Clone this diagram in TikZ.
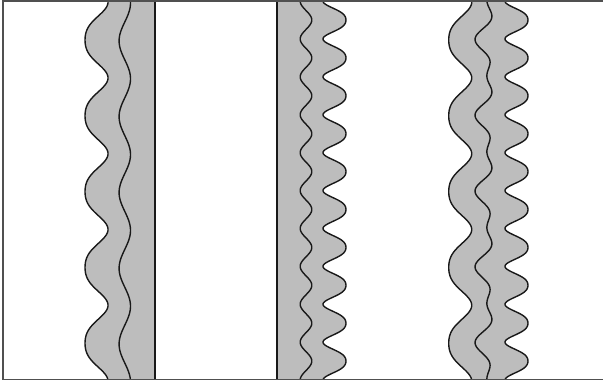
\documentclass[tikz,border=0pt]{standalone}
\definecolor{fillgray}{RGB}{189,189,189}
\definecolor{linegray}{RGB}{80,80,80}
\definecolor{curve}{RGB}{25,25,25}
\tikzset{
  declare function={
    lw(\t)=cos(4.7493*(\t-2.1))+0.15*cos(9.4987*(\t-2.1));
    sw(\t)=cos(9.4987*(\t-20))-0.15*cos(18.9974*(\t-20));
    lc(\t)=cos(4.7493*(\t-3));
    sc(\t)=cos(9.4987*(\t-20));
  },
  grayfill/.style={fill=fillgray},
  wave/.style={draw=curve, line width=1.4pt, line join=round},
  divider/.style={draw=curve, line width=1.5pt},
  frame/.style={draw=linegray, line width=1.6pt},
  pl/.style={domain=1.2:379.3, samples=400, variable=\t},
}
\begin{document}
\begin{tikzpicture}[x=1pt,y=-1pt]
\useasboundingbox (0,0) rectangle (603,381);
% panel 1 fill
\fill[grayfill] plot[pl] ({94.8+11.5*lw(\t)},\t) -- (155,379.3) -- (155,1.2) -- cycle;
% panel 2 fill
\fill[grayfill] (277,1.2) -- (277,379.3) -- plot[pl, domain=379.3:1.2] ({336.2+11.5*sw(\t)},\t) -- cycle;
% panel 3 fill
\fill[grayfill] plot[pl] ({458.5+11.5*lw(\t)},\t) -- plot[pl, domain=379.3:1.2] ({518.2+11.5*sw(\t)},\t) -- cycle;
% panel 1 curves
\draw[wave] plot[pl] ({94.8+11.5*lw(\t)},\t);
\draw[wave] plot[pl] ({124.8+5.7*lc(\t)},\t);
% panel 2 curves
\draw[wave] plot[pl] ({306+5.8*sc(\t)},\t);
\draw[wave] plot[pl] ({336.2+11.5*sw(\t)},\t);
% panel 3 curves
\draw[wave] plot[pl] ({458.5+11.5*lw(\t)},\t);
\draw[wave] plot[pl] ({485.5+6*lc(\t)+4.5*sc(\t)},\t);
\draw[wave] plot[pl] ({518.2+11.5*sw(\t)},\t);
% dividers
\coordinate (d1t) at (155,1.2);
\coordinate (d1b) at (155,379.3);
\coordinate (d2t) at (277,1.2);
\coordinate (d2b) at (277,379.3);
\draw[divider] (d1t) -- (d1b);
\draw[divider] (d2t) -- (d2b);
% frame
\draw[frame] (603,1.2) -- (2.7,1.2) -- (2.7,379.3) -- (603,379.3);
\end{tikzpicture}
\end{document}
